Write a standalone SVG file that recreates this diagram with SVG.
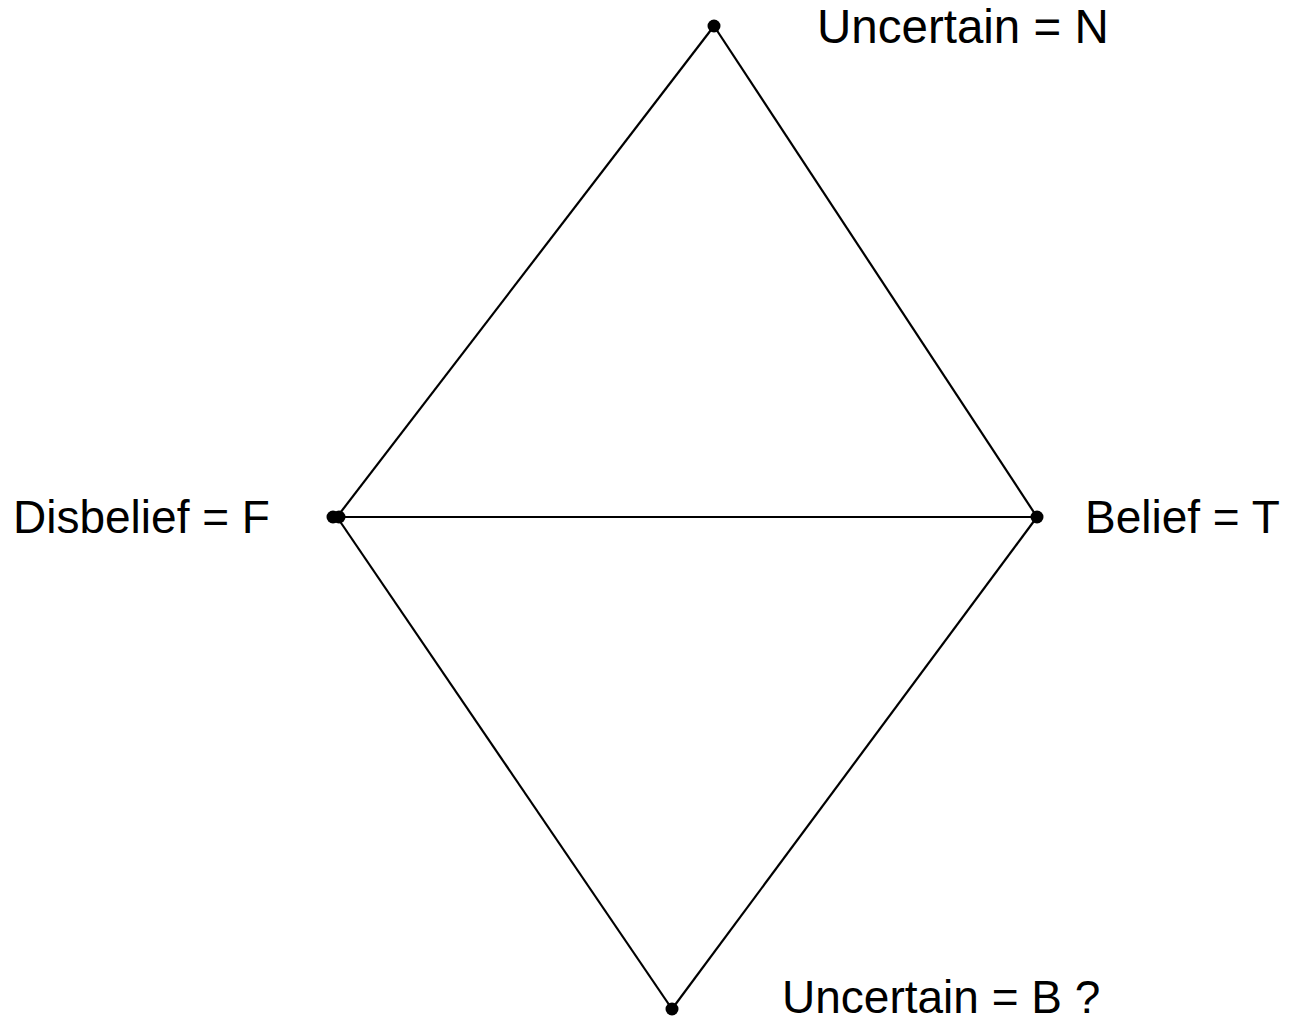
<svg xmlns="http://www.w3.org/2000/svg" width="1289" height="1031" viewBox="0 0 1289 1031">
<style>
.edge{stroke:#000;stroke-width:2.2;fill:none}
.dot{fill:#000}
.lbl{font-family:"Liberation Sans",Arial,sans-serif;font-size:46px;fill:#000}
</style>
<rect width="1289" height="1031" fill="#fff"/>
<g id="connectors">
<line class="edge" x1="714" y1="26" x2="337" y2="517"/>
<line class="edge" x1="714" y1="26" x2="1037" y2="517"/>
<line class="edge" x1="337" y1="517" x2="1037" y2="517"/>
<line class="edge" x1="337" y1="517" x2="672" y2="1009"/>
<line class="edge" x1="1037" y1="517" x2="672" y2="1009"/>
</g>
<g id="node-N">
<circle class="dot" cx="714" cy="26" r="6.5"/>
<text class="lbl" x="817" y="43" style="font-size:47.5px">Uncertain = N</text>
</g>
<g id="node-F">
<circle class="dot" cx="333" cy="517" r="6.5"/>
<circle class="dot" cx="339" cy="517" r="6.5"/>
<text class="lbl" x="13" y="533">Disbelief = F</text>
</g>
<g id="node-T">
<circle class="dot" cx="1037" cy="517" r="6.5"/>
<text class="lbl" x="1085" y="533">Belief = T</text>
</g>
<g id="node-B">
<circle class="dot" cx="672" cy="1009" r="6.5"/>
<text class="lbl" x="782" y="1013">Uncertain = B ?</text>
</g>
</svg>
